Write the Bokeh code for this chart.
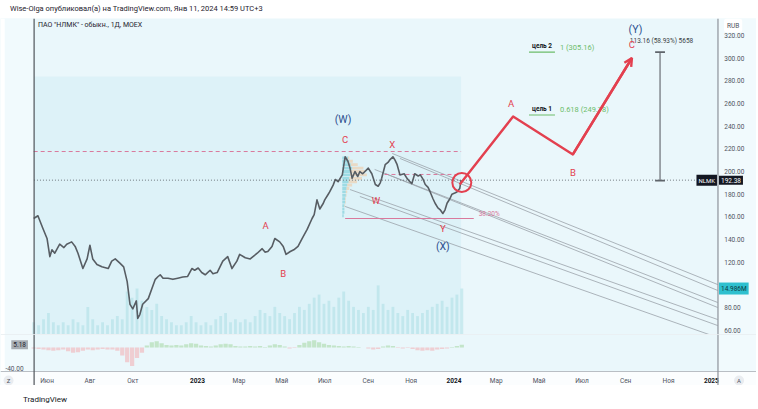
import numpy as np
from bokeh.plotting import figure
from bokeh.models import (ColumnDataSource, Range1d, Span, Label, Div, Arrow, OpenHead)
from bokeh.layouts import column
from bokeh.core.properties import value
from bokeh.embed import file_html
from bokeh.resources import INLINE

# ------------------------------------------------------------------ data
# all x positions are days counted from 2023-01-01
header_text = "Wise-Olga опубликовал(а) на TradingView.com, Янв 11, 2024 14:59 UTC+3"
symbol_text = 'ПАО "НЛМК" - обыкн., 1Д, MOEX'
footer_text = "TradingView"

price_day = [-233, -227, -220, -214, -210, -207, -203, -196, -190, -186,
             -179, -174, -170, -163, -157, -153, -149, -143, -136, -127,
             -122, -117, -110, -105, -100, -96, -92, -87, -85, -82,
             -78, -70, -63, -60, -56, -53, -49, -42, -35, -28,
             -21, -14, -8, -4, 1, 6, 11, 18, 22, 28,
             36, 43, 49, 56, 60, 68, 75, 79, 85, 92,
             96, 100, 106, 110, 117, 122, 126, 132, 137, 143,
             149, 156, 163, 166, 170, 174, 179, 181, 186, 188,
             193, 196, 200, 206, 210, 214, 217, 220, 224, 228,
             231, 235, 243, 248, 253, 257, 260, 262, 267, 271,
             274, 278, 281, 284, 288, 294, 298, 302, 305, 309,
             314, 317, 321, 324, 328, 331, 335, 338, 342, 345,
             349, 352, 355, 359, 362, 366, 369, 373, 375]
price_close = [158.6, 161, 150, 141, 125, 131, 128, 136, 133, 136,
               138, 134, 128, 114.5, 123, 135, 123, 118, 116, 114.5,
               121, 123, 119, 116, 103, 83, 79, 86, 70.5, 74,
               83, 88, 100, 105, 107.5, 109, 106, 106, 105, 106,
               107, 107.5, 114.5, 113, 115, 111, 109, 113, 110, 111,
               121, 125, 114.5, 121, 127, 124, 123, 125, 128, 132,
               129, 129.5, 134, 141, 138, 134, 127, 129.5, 131, 134,
               141, 149, 158.6, 162, 175, 167, 172, 175, 180, 182,
               188, 193, 191, 197, 213, 209, 203, 194, 200, 195.6,
               200, 198, 203, 198, 188.5, 187, 190, 194, 206, 208,
               210.5, 213, 210, 206, 197, 198, 194, 191, 189.4, 198,
               196, 197, 193, 188.5, 186, 182, 176, 172, 168, 166.5,
               163, 166, 172, 176, 180, 181, 182, 185, 192.38]

week_day = [-233 + 7 * i for i in range(88)]
volume_m = [4, 3, 5, 7, 4, 3, 4, 3, 5, 4,
            3, 9, 5, 3, 4, 3, 5, 6, 5, 14,
            12, 15, 11, 9, 8, 10, 6, 5, 4, 3,
            3, 4, 6, 4, 3, 4, 3, 5, 6, 7,
            4, 5, 4, 5, 4, 6, 8, 7, 6, 9,
            7, 6, 5, 7, 9, 8, 10, 12, 13, 10,
            11, 9, 12, 14, 11, 9, 8, 7, 9, 8,
            16, 10, 8, 9, 7, 6, 8, 7, 6, 7,
            8, 9, 10, 11, 9, 12, 13, 14.986]
oscillator = [-2, -3, -4, -5, -6, -5, -4, -7, -10, -9,
              -6, -4, -5, -4, -3, -4, -4, -6, -15, -28,
              -35, -20, -10, 4, 10, 12, 8, 5, 4, 5,
              4, 6, 8, 7, 4, 3, 2, 4, 6, 7,
              6, 3, 2, 2, 3, 2, 3, 1, 4, 6,
              5, 2, -2, -1, 5, 9, 12, 14, 10, 7,
              5, 4, 3, 2, 3, 2, 1, 0, -2, -4,
              -3, 2, 4, 3, -1, -2, -1, -3, -5, -6,
              -5, -6, -4, -3, -2, 1, 3, 5.18]

time_tick_day = [-214, -153, -92, 0, 59, 120, 181, 243, 304, 365, 425, 486, 547, 609, 670, 731]
time_tick_label = ["Июн", "Авг", "Окт", "2023", "Мар", "Май", "Июл", "Сен", "Ноя",
                   "2024", "Мар", "Май", "Июл", "Сен", "Ноя", "2025"]
price_ticks = [60, 80, 100, 120, 140, 160, 180, 200, 220, 240, 260, 280, 300, 320]
price_tick_labels = ["60.00", "80.00", "100.00", "120.00", "140.00", "160.00", "180.00",
                     "200.00", "220.00", "240.00", "260.00", "280.00", "300.00", "320.00"]
osc_ticks = [-40]
osc_tick_labels = ["-40.00"]

# wave labels
wave_text = ["(W)", "C", "X", "W", "Y", "(X)", "A", "B", "A", "B", "C", "(Y)"]
wave_day = [207, 210, 277, 254, 349, 349, 97, 122, 446, 534, 618, 623]
wave_price = [245.8, 228.2, 223.8, 174.4, 149.8, 133.9, 152.4, 110.1, 259.9, 199.1, 311.9, 325.1]

# projected path
proj_day = [373, 449, 534, 618]
proj_price = [188.5, 248.5, 215.0, 300.0]
circle_day, circle_price = 376, 190.3

# drawn levels
dashed_high = 217.6
dashed_high_days = (-233, 375)
dashed_mid = 197.4
dashed_mid_days = (266, 375)
fib_level = 158.6
fib_days = (210, 393)
fib_label = "38.20%"
fib_label_day, fib_label_price = 415, 163.0
box_top_price = 283.7

# target levels
target_price = [249.78, 305.16]
target_day0 = [471.6, 471.6]
target_day1 = [508.5, 508.5]
target_name = ["цель 1", "цель 2"]
target_text = ["0.618 (249.78)", "1 (305.16)"]
target_text_day = 515.6

# measurement
measure_day = 658
measure_low, measure_high = 192.0, 305.16
measure_text = "113.16 (58.93%) 5658"
measure_text_day, measure_text_price = 615, 315.4

# channel lines
chan_d0 = [277, 288, 252, 267, 217, 231, 210]
chan_p0 = [215.9, 211.5, 201.8, 198.2, 184.1, 178.0, 169.2]
chan_d1 = [740, 740, 740, 740, 740, 740, 740]
chan_p1 = [100.4, 95.2, 84.6, 80.2, 69.6, 64.3, 53.7]

# volume profile
prof_start_day = 206
prof_levels = [212, 209, 206, 203, 200, 197, 194, 191, 188, 185, 182, 179, 176, 173, 170, 167, 164, 161]
prof_up = [8, 10, 12, 14, 12, 11, 10, 9, 7, 6, 5, 5, 4, 4, 3, 3, 3, 2]
prof_down = [2, 5, 10, 16, 20, 24, 18, 12, 7, 4, 2, 1, 1, 1, 1, 0, 0, 0]

# ------------------------------------------------------------------ layout constants
FONT = "Roboto"
RED = "#e3404f"
NAVY = "#2d4e8e"
GREEN = "#6cbd6a"
PINK = "#d9799c"
BG = "#eaf7fb"
SCALE_BG = "#f1fafd"

FIG_W = 756
PX_PER_DAY = 0.703
XR0 = -280.2                      # day at left canvas edge
XR1 = XR0 + FIG_W / PX_PER_DAY
PANE_L, PANE_R = -232.6, 740.4    # price pane edges
Y0, Y1 = 56.4, 334.8
VOL_MAX = 103.0
OSC_PX = 0.525                    # px per oscillator unit
OSC_TOP = 24.8
OSC_PANE_H = 37
AXIS_ROW_H = 14
OSC_BOTTOM = OSC_TOP - OSC_PANE_H / OSC_PX
OSC_LOW = OSC_BOTTOM - AXIS_ROW_H / OSC_PX
AXIS_TXT = "#50535e"


def base_fig(height, y_range):
    f = figure(width=FIG_W, height=height, x_range=Range1d(XR0, XR1), y_range=y_range,
               output_backend="svg", toolbar_location=None,
               min_border_left=0, min_border_right=0, min_border_top=0, min_border_bottom=0,
               background_fill_color=BG, border_fill_color=SCALE_BG, outline_line_color=None,
               x_axis_type=None, y_axis_type=None)
    f.xgrid.visible = False
    f.ygrid.visible = False
    return f


p1 = base_fig(316, Range1d(Y0, Y1))
p1.extra_y_ranges = {"vol": Range1d(0, VOL_MAX)}

# scale areas
p1.quad(left=[XR0, PANE_R], right=[PANE_L, XR1], bottom=[Y0, Y0], top=[Y1, Y1],
        fill_color=SCALE_BG, line_color=None)
p1.quad(left=[XR0], right=[XR0 + 6], bottom=[Y0], top=[Y1], fill_color="white", line_color=None)
# background box
p1.quad(left=[PANE_L], right=[price_day[-1]], bottom=[Y0], top=[box_top_price],
        fill_color="#ddf2f8", line_color=None)

# volume
p1.vbar(x=week_day, top=volume_m, width=4.0, bottom=0, y_range_name="vol",
        fill_color="#8fd4db", fill_alpha=0.35, line_color=None)

# volume profile
p1.hbar(y=prof_levels, left=prof_start_day, right=[prof_start_day + u for u in prof_up],
        height=2.5, fill_color="#5cc4cf", fill_alpha=0.5, line_color=None)
p1.hbar(y=prof_levels, left=[prof_start_day + u for u in prof_up],
        right=[prof_start_day + u + d for u, d in zip(prof_up, prof_down)],
        height=2.5, fill_color="#f3c79b", fill_alpha=0.55, line_color=None)

# channel lines
p1.segment(x0=chan_d0, y0=chan_p0, x1=chan_d1, y1=chan_p1,
           line_color="#9aa2aa", line_width=0.8)

# pink levels
p1.segment(x0=[dashed_high_days[0], dashed_mid_days[0]], y0=[dashed_high, dashed_mid],
           x1=[dashed_high_days[1], dashed_mid_days[1]], y1=[dashed_high, dashed_mid],
           line_color=PINK, line_width=1, line_dash="4 3")
p1.segment(x0=[fib_days[0]], y0=[fib_level], x1=[fib_days[1]], y1=[fib_level],
           line_color=PINK, line_width=1.2)
p1.text(x=[fib_label_day], y=[fib_label_price], text=[fib_label], text_font=value(FONT),
        text_font_size="6.5px", text_color=PINK, text_align="center", text_baseline="middle")

# current price line across the pane
p1.segment(x0=[PANE_L], y0=[price_close[-1]], x1=[PANE_R], y1=[price_close[-1]],
           line_color="#555b61", line_width=0.8, line_dash="1 2")

# price
p1.line(price_day, price_close, line_color="#575d63", line_width=1.6, line_join="round")

# targets
p1.segment(x0=target_day0, y0=target_price, x1=target_day1, y1=target_price,
           line_color=GREEN, line_width=1.2)
p1.text(x=[(a + b) / 2 for a, b in zip(target_day0, target_day1)],
        y=[t + 5 for t in target_price], text=target_name, text_font=value(FONT),
        text_font_size="6.5px", text_font_style="bold", text_color="#131722",
        text_align="center", text_baseline="middle")
p1.text(x=[target_text_day] * len(target_price), y=[t + 4.5 for t in target_price],
        text=target_text, text_font=value(FONT), text_font_size="7.5px", text_color=GREEN,
        text_align="left", text_baseline="middle")

# measurement
p1.segment(x0=[measure_day], y0=[measure_low], x1=[measure_day], y1=[measure_high],
           line_color="#8a9096", line_width=1.6)
p1.segment(x0=[measure_day - 7, measure_day - 7], y0=[measure_low, measure_high],
           x1=[measure_day + 7, measure_day + 7], y1=[measure_low, measure_high],
           line_color="#5f656b", line_width=1.6)
p1.text(x=[measure_text_day], y=[measure_text_price], text=[measure_text],
        text_font=value(FONT), text_font_size="6.5px", text_color="#3a3f45",
        text_align="left", text_baseline="middle")

# projection
p1.line(proj_day, proj_price, line_color=RED, line_width=2.4, line_join="round")
p1.add_layout(Arrow(end=OpenHead(size=8, line_color=RED, line_width=2.4),
                    x_start=proj_day[-2], y_start=proj_price[-2],
                    x_end=proj_day[-1], y_end=proj_price[-1],
                    line_color=RED, line_width=2.4))
p1.scatter(x=[circle_day], y=[circle_price], size=19, marker="circle",
           fill_color=None, line_color=RED, line_width=2)

# wave labels
wave_color = [NAVY if t.startswith("(") else RED for t in wave_text]
wave_size = ["10.5px" if t.startswith("(") else "9.5px" for t in wave_text]
wsrc = ColumnDataSource(dict(x=wave_day, y=wave_price, t=wave_text, c=wave_color, s=wave_size))
p1.text(x="x", y="y", text="t", text_color="c", text_font_size="s", source=wsrc,
        text_font=value(FONT), text_align="center", text_baseline="middle")

# right price scale
p1.text(x=[PANE_R + 9] * len(price_ticks), y=price_ticks, text=price_tick_labels,
        text_font=value(FONT), text_font_size="6.5px", text_color=AXIS_TXT,
        text_align="left", text_baseline="middle")
p1.add_layout(Span(location=PANE_R, dimension="height", line_color="#8d9299", line_width=1.2))
p1.add_layout(Span(location=price_day[0] + 0.6, dimension="height",
                   line_color="#50555a", line_width=1.2))

# symbol header inside pane
p1.add_layout(Label(x=PANE_L, y=Y1, x_offset=4, y_offset=-6, text=symbol_text,
                    text_font=FONT, text_font_size="7px", text_color="#1e222d",
                    text_baseline="middle", text_align="left"))

# price tags
p1.add_layout(Label(x=PANE_R, y=price_close[-1], x_offset=1, text="192.38", text_font=FONT,
                    text_font_size="6.5px", text_color="white", text_baseline="middle",
                    text_align="left", background_fill_color="#131722", padding=2))
p1.add_layout(Label(x=PANE_R, y=price_close[-1], x_offset=-1, text="NLMK", text_font=FONT,
                    text_font_size="6px", text_color="white", text_baseline="middle",
                    text_align="right", background_fill_color="#131722", padding=2))
p1.add_layout(Label(x=PANE_R, y=volume_m[-1], y_range_name="vol", x_offset=1, text="14.986M",
                    text_font=FONT, text_font_size="6.5px", text_color="#0d3b42",
                    text_baseline="middle", text_align="left",
                    background_fill_color="#2fc0cf", padding=2))
p1.add_layout(Label(x=PANE_R, y=Y1, x_offset=6, y_offset=-7, text="RUB", text_font=FONT,
                    text_font_size="6.5px", text_color=AXIS_TXT, text_baseline="middle",
                    text_align="left", background_fill_color="white", padding=3,
                    border_radius=3))

# ------------------------------------------------------------------ indicator pane + time row
p2 = base_fig(OSC_PANE_H + AXIS_ROW_H, Range1d(OSC_LOW, OSC_TOP))
p2.x_range = p1.x_range
p2.quad(left=[XR0, PANE_R], right=[PANE_L, XR1], bottom=[OSC_BOTTOM] * 2,
        top=[OSC_TOP] * 2, fill_color=SCALE_BG, line_color=None)
p2.quad(left=[XR0], right=[XR0 + 6], bottom=[OSC_BOTTOM], top=[OSC_TOP],
        fill_color="white", line_color=None)
# time row background and separator
p2.quad(left=[XR0], right=[XR1], bottom=[OSC_LOW], top=[OSC_BOTTOM],
        fill_color="#fbfdfe", line_color=None)
p2.segment(x0=[XR0], y0=[OSC_BOTTOM], x1=[XR1], y1=[OSC_BOTTOM],
           line_color="#b9bec4", line_width=1)
# pane separator line to the price pane
p2.segment(x0=[XR0], y0=[OSC_TOP], x1=[XR1], y1=[OSC_TOP],
           line_color="#dfe6ea", line_width=1)

osc_color = ["#a9d9a9" if v >= 0 else "#f2b3b8" for v in oscillator]
p2.vbar(x=week_day, top=oscillator, bottom=0, width=6.0, fill_color=osc_color,
        fill_alpha=0.6, line_color=None)

# time labels
label_y = OSC_BOTTOM - 9 / OSC_PX
time_style = ["bold" if l.isdigit() else "normal" for l in time_tick_label]
time_color = ["#131722" if l.isdigit() else AXIS_TXT for l in time_tick_label]
tsrc = ColumnDataSource(dict(x=time_tick_day, y=[label_y] * len(time_tick_day),
                             t=time_tick_label, s=time_style, c=time_color))
p2.text(x="x", y="y", text="t", text_font_style="s", text_color="c", source=tsrc,
        text_font=value(FONT), text_font_size="6.5px", text_align="center",
        text_baseline="middle")
# scale buttons
btn_x = [XR0 + 11.4, PANE_R + 30]
p2.scatter(x=btn_x, y=[label_y] * 2, size=10, marker="circle",
           fill_color="#e9ecf0", line_color=None)
p2.text(x=btn_x, y=[label_y] * 2, text=["Z", "A"], text_font=value(FONT),
        text_font_size="6px", text_color=AXIS_TXT, text_align="center",
        text_baseline="middle")

p2.text(x=[XR0 + 7] * len(osc_ticks), y=osc_ticks, text=osc_tick_labels,
        text_font=value(FONT), text_font_size="6.5px", text_color=AXIS_TXT,
        text_align="left", text_baseline="middle")
p2.add_layout(Span(location=PANE_R, dimension="height", line_color="#8d9299", line_width=1.2))
p2.add_layout(Span(location=price_day[0] + 0.6, dimension="height",
                   line_color="#50555a", line_width=1.2))
p2.add_layout(Label(x=PANE_L, y=oscillator[-1], x_offset=-6, text="5.18", text_font=FONT,
                    text_font_size="6.5px", text_color="#1e222d", text_baseline="middle",
                    text_align="right", background_fill_color="#a7adb3", padding=2))

header = Div(text=header_text, width=FIG_W, height=8,
             styles={"font-size": "7.5px", "font-family": FONT, "color": "#1e222d",
                     "line-height": "8px", "white-space": "nowrap", "padding-left": "5px"})
footer = Div(text=footer_text, width=FIG_W, height=20,
             styles={"font-size": "8px", "font-family": FONT, "color": "#131722",
                     "line-height": "20px", "padding-left": "18px", "white-space": "nowrap"})

layout = column(header, p1, p2, footer, spacing=0)
open("out.html", "w").write(file_html(layout, INLINE))
